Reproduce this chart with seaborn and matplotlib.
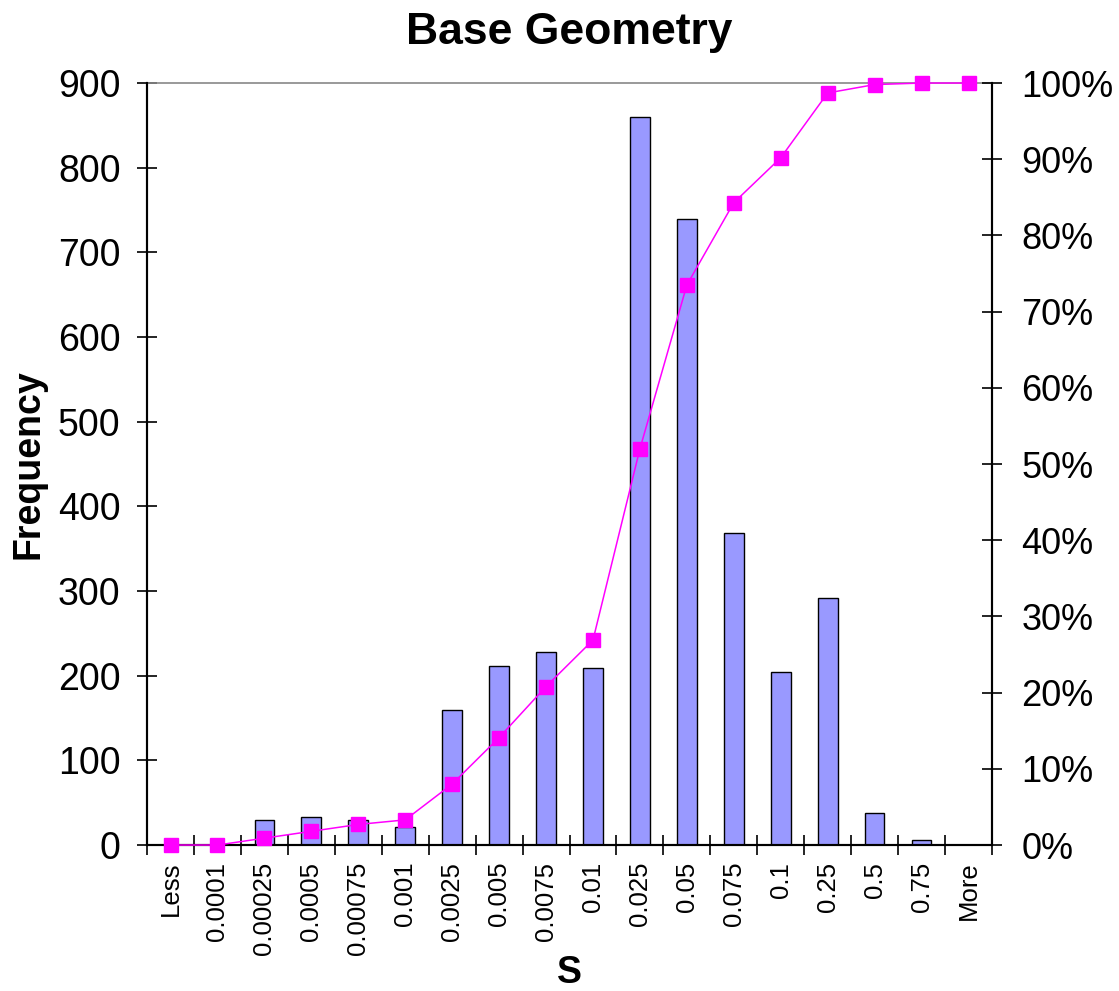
import numpy as np
import matplotlib
matplotlib.use("Agg")
import matplotlib.pyplot as plt
from matplotlib.ticker import FixedLocator, PercentFormatter
import seaborn as sns

bins = ["Less", "0.0001", "0.00025", "0.0005", "0.00075", "0.001", "0.0025",
        "0.005", "0.0075", "0.01", "0.025", "0.05", "0.075", "0.1", "0.25",
        "0.5", "0.75", "More"]
frequency = [0, 0, 30, 33, 30, 21, 159, 212, 228, 209, 860, 739, 368, 204,
             292, 38, 6, 0]
cumulative_pct = [0.0, 0.0, 0.9, 1.8, 2.7, 3.3, 8.0, 14.1, 20.8, 26.9, 52.0,
                  73.5, 84.3, 90.2, 98.7, 99.8, 100.0, 100.0]

sns.set_style("white")
plt.rcParams["font.family"] = ["Liberation Sans", "DejaVu Sans"]
plt.rcParams["text.color"] = "black"
plt.rcParams["axes.labelcolor"] = "black"
plt.rcParams["xtick.color"] = "black"
plt.rcParams["ytick.color"] = "black"

fig = plt.figure(figsize=(11.19, 9.91), dpi=100)
ax = fig.add_axes([0.1314, 0.1473, 0.7551, 0.7689])

sns.barplot(x=bins, y=frequency, ax=ax, color="#9999ff", saturation=1,
            edgecolor="black", linewidth=1.0, width=0.42)
ax.set_xlim(-0.5, len(bins) - 0.5)
ax.set_ylim(0, 900)
ax.set_yticks(range(0, 901, 100))
ax.tick_params(axis="y", labelsize=27, direction="inout", length=14, width=1.2, pad=12)
ax.tick_params(axis="x", which="major", labelsize=18.5, labelrotation=90, length=0, pad=12)
ax.xaxis.set_minor_locator(FixedLocator(np.arange(-0.5, len(bins), 1.0)))
ax.tick_params(axis="x", which="minor", direction="inout", length=14, width=1.2, bottom=True)
for side in ["left", "bottom", "right"]:
    ax.spines[side].set_color("black")
    ax.spines[side].set_linewidth(1.5)
ax.spines["top"].set_color("#888888")
ax.spines["top"].set_linewidth(1.2)

# cumulative % on the secondary axis
ax2 = ax.twinx()
ax2.plot(np.arange(len(bins)), cumulative_pct, color="#ff00ff", linewidth=1.1,
         marker="s", markersize=10, markeredgecolor="#ff00ff", clip_on=False, zorder=5)
ax2.set_ylim(0, 100)
ax2.set_yticks(range(0, 101, 10))
ax2.yaxis.set_major_formatter(PercentFormatter(decimals=0))
ax2.tick_params(axis="y", labelsize=26, direction="inout", length=14, width=1.2,
                right=True, pad=14)
for side in ["left", "bottom", "right"]:
    ax2.spines[side].set_color("black")
    ax2.spines[side].set_linewidth(1.5)
ax2.spines["top"].set_visible(False)

ax.set_ylabel("Frequency", fontsize=27, fontweight="bold", labelpad=8)
ax.set_xlabel("S", fontsize=27, fontweight="bold", labelpad=0)
ax.set_title("Base Geometry", fontsize=32, fontweight="bold", pad=28)

fig.savefig("out.png", dpi=100)
